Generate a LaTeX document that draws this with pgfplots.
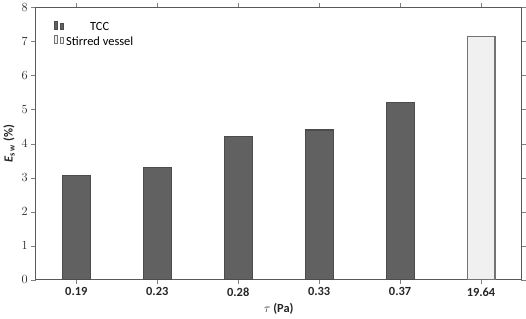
\documentclass[border=0pt]{standalone}
\usepackage{pgfplots}
\pgfplotsset{compat=1.18}
\usepackage{fontspec}
\setmainfont{Carlito}
\begin{document}
\begin{tikzpicture}
\begin{axis}[
  ybar,
  bar width=27pt,
  scale only axis,
  width=469pt, height=263pt,
  xmin=-0.5, xmax=5.5, ymin=0, ymax=8,
  xtick={0,1,2,3,4,5},
  xticklabels={0.19,0.23,0.28,0.33,0.37,19.64},
  ytick={0,1,2,3,4,5,6,7,8},
  tick align=outside,
  axis line style={black!65, line width=1pt},
  tick label style={font=\large\bfseries, text=black!85},
  xlabel={\textbf{$\tau$ (Pa)}},
  ylabel={\textbf{\textit{E}\textsubscript{s w} (\%)}},
  label style={font=\large, text=black!85},
  legend style={at={(0.03,0.96)}, anchor=north west, draw=none, font=\large},
]
\addplot[bar shift=0pt, draw=black!70, line width=1pt, fill=black!62] coordinates {(0,3.05) (1,3.3) (2,4.2) (3,4.4) (4,5.2)};
\addplot[bar shift=0pt, draw=black!55, line width=1pt, fill=black!6] coordinates {(5,7.15)};
\legend{TCC, Stirred vessel}
\end{axis}
\end{tikzpicture}
\end{document}
